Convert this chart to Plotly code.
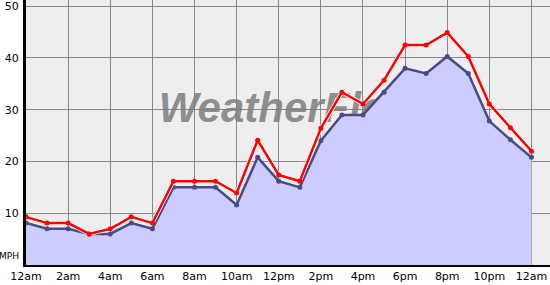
import plotly.graph_objects as go

hours = list(range(25))
tick_vals = [0, 2, 4, 6, 8, 10, 12, 14, 16, 18, 20, 22, 24]
tick_labels = ["12am", "2am", "4am", "6am", "8am", "10am", "12pm", "2pm", "4pm", "6pm", "8pm", "10pm", "12am"]

wind = [8.1, 7.0, 7.0, 6.0, 6.0, 8.1, 7.0, 15.0, 15.0, 15.0, 11.6, 20.8, 16.2, 15.0, 24.0,
        29.0, 29.0, 33.4, 38.0, 37.0, 40.3, 37.0, 27.8, 24.2, 20.8]
gust = [9.3, 8.1, 8.1, 6.0, 7.0, 9.3, 8.1, 16.2, 16.2, 16.2, 13.9, 24.1, 17.4, 16.2, 26.4,
        33.4, 31.1, 35.7, 42.5, 42.5, 44.9, 40.3, 31.1, 26.5, 22.0]

y_ticks = [10, 20, 30, 40, 50]

fig = go.Figure()

# watermark (drawn first so the fill covers it)
fig.add_trace(go.Scatter(
    x=[6.3], y=[29.6], mode="text", text=["WeatherFlow"], textposition="middle right",
    textfont=dict(family="Liberation Sans, Arial", size=42, color="rgba(125,125,125,0.85)",
                  style="italic", weight="bold"),
    hoverinfo="skip", showlegend=False))

# wind fill + line
fig.add_trace(go.Scatter(
    x=hours, y=wind, mode="lines", fill="tozeroy", fillcolor="#ccccff",
    line=dict(color="rgba(0,0,0,0)", width=0), hoverinfo="skip", showlegend=False))
fig.add_trace(go.Scatter(
    x=hours, y=wind, mode="lines+markers",
    line=dict(color="#4a4a88", width=2.5), marker=dict(color="#4a4a88", size=5),
    showlegend=False))

# gust halo + line
fig.add_trace(go.Scatter(
    x=hours, y=gust, mode="lines", line=dict(color="white", width=4),
    hoverinfo="skip", showlegend=False))
fig.add_trace(go.Scatter(
    x=hours, y=gust, mode="lines+markers",
    line=dict(color="#ff0000", width=2.5), marker=dict(color="#ff0000", size=5),
    showlegend=False))

fig.add_annotation(x=0, xref="paper", xanchor="right", xshift=-5, y=1.7, yref="y",
                   text="MPH", showarrow=False, font=dict(family="DejaVu Sans", size=9, color="black"))

fig.update_layout(
    width=550, height=285,
    margin=dict(l=26, r=0, t=0, b=20, pad=0),
    paper_bgcolor="white", plot_bgcolor="#eeeeee",
    font=dict(family="DejaVu Sans", size=11, color="black"),
    xaxis=dict(range=[0, 24.88], tickvals=tick_vals, ticktext=tick_labels, showgrid=True,
               gridcolor="#888888", gridwidth=1, zeroline=False, showline=True,
               linecolor="black", linewidth=2, ticks="", ticklen=0, fixedrange=True),
    yaxis=dict(range=[0, 51.2], tickvals=y_ticks, showgrid=True, gridcolor="#888888",
               gridwidth=1, zeroline=False, showline=True, linecolor="black", linewidth=3,
               ticks="", ticklen=0, ticklabelstandoff=2, fixedrange=True),
)

fig.write_html("out.html")
